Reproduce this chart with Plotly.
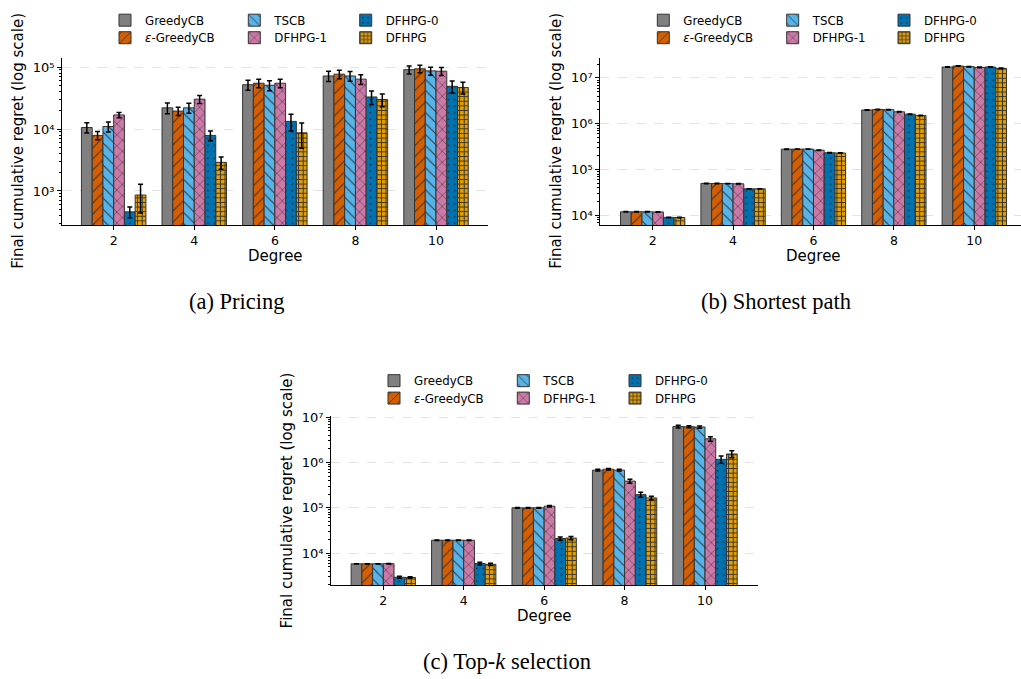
import math
import plotly.graph_objects as go

# ---- data -------------------------------------------------------------
degrees = ["2", "4", "6", "8", "10"]
methods = ["GreedyCB", "<i>ε</i>-GreedyCB", "TSCB", "DFHPG-1", "DFHPG-0", "DFHPG"]

# rows follow `methods`, columns follow `degrees`
pricing_mean = [
    [10600, 22000, 52000, 72000, 91000],
    [7900, 19500, 55000, 77000, 94000],
    [11000, 22000, 51000, 72000, 87000],
    [16900, 30400, 55000, 64000, 86000],
    [460, 7900, 13300, 33000, 49000],
    [860, 2900, 8700, 30000, 47000],
]
pricing_err = [
    [2000, 4300, 9500, 13500, 13700],
    [1200, 3000, 8500, 12000, 13000],
    [2000, 4000, 9500, 13000, 13000],
    [1600, 4500, 8500, 11500, 13000],
    [90, 1400, 4000, 8000, 10600],
    [420, 650, 3800, 7000, 10000],
]

path_mean = [
    [12000, 49900, 279000, 2.00e6, 17.3e6],
    [12000, 49800, 280000, 2.05e6, 18.2e6],
    [12000, 49500, 280000, 2.03e6, 17.6e6],
    [11900, 49000, 265000, 1.82e6, 17.0e6],
    [9060, 38000, 233000, 1.62e6, 17.3e6],
    [9000, 38000, 230000, 1.51e6, 16.2e6],
]
path_err = [
    [150, 500, 3000, 25000, 250000],
    [150, 500, 3000, 25000, 300000],
    [150, 500, 3000, 25000, 250000],
    [150, 500, 3000, 25000, 250000],
    [120, 400, 3000, 22000, 250000],
    [120, 400, 3000, 20000, 250000],
]

topk_mean = [
    [5800, 19300, 100000, 680000, 6.25e6],
    [5800, 19300, 100000, 714000, 6.20e6],
    [5800, 19300, 100000, 680000, 6.10e6],
    [5850, 19200, 109000, 390000, 3.36e6],
    [2930, 5900, 21000, 196000, 1.18e6],
    [2900, 5650, 21500, 166000, 1.55e6],
]
topk_err = [
    [60, 200, 1500, 30000, 450000],
    [60, 200, 1500, 30000, 350000],
    [60, 200, 1500, 30000, 350000],
    [70, 300, 4000, 40000, 380000],
    [150, 400, 1800, 25000, 210000],
    [120, 300, 1800, 15000, 270000],
]

# ---- styling ----------------------------------------------------------
W, H = 1021, 679
colors = ["#808080", "#D55E00", "#56B4E9", "#CC79A7", "#0072B2", "#E69F00"]
hatches = [
    dict(shape=""),
    dict(shape="/", size=7.8, solidity=0.13),
    dict(shape="\\", size=7.8, solidity=0.13),
    dict(shape="x", size=7.8, solidity=0.13),
    dict(shape=".", size=6.5, solidity=0.08),
    dict(shape="+", size=4.6, solidity=0.38),
]
EDGE = "#333333"
SANS = "DejaVu Sans"
SERIF = "Liberation Serif"
SUP = str.maketrans("0123456789", "⁰¹²³⁴⁵⁶⁷⁸⁹")

panels = [
    dict(mean=pricing_mean, err=pricing_err, ax="", yr=[2.45, 5.155],
         dom_x=[61.7, 488], dom_y=[52, 221], xr=[-0.645, 4.645],
         ytitle_x=18.5, xtitle_y=252.7, xtitle_x=275,
         leg_x=[145, 274.3, 385.7], leg_y=[14.3, 32],
         caption="(a) Pricing", cap_x=237, cap_y=298),
    dict(mean=path_mean, err=path_err, ax="2", yr=[3.79, 7.445],
         dom_x=[600, 1021], dom_y=[52, 221], xr=[-0.655, 4.581],
         ytitle_x=556.5, xtitle_y=252.7, xtitle_x=813,
         leg_x=[683.3, 812.7, 924], leg_y=[14.3, 32],
         caption="(b) Shortest path", cap_x=776, cap_y=298),
    dict(mean=topk_mean, err=topk_err, ax="3", yr=[3.293, 7.037],
         dom_x=[330.7, 757.7], dom_y=[413.3, 584.3], xr=[-0.654, 4.655],
         ytitle_x=287, xtitle_y=615.7, xtitle_x=544,
         leg_x=[414, 543.3, 655], leg_y=[378, 395.6],
         caption="(c) Top-<i>k</i> selection", cap_x=507, cap_y=661.7),
]

fig = go.Figure()
layout = {}
annotations = []
legend_no = 0

for p in panels:
    xa = "x" + p["ax"]
    ya = "y" + p["ax"]
    for i, name in enumerate(methods):
        legend_no += 1
        lname = "legend" if legend_no == 1 else f"legend{legend_no}"
        pat = dict(hatches[i])
        if pat["shape"]:
            pat.update(fgcolor=EDGE, fgopacity=1.0)
        fig.add_trace(go.Bar(
            x=degrees, y=p["mean"][i], name=name,
            xaxis=xa, yaxis=ya, legend=lname, showlegend=True,
            marker=dict(color=colors[i], line=dict(color=EDGE, width=1),
                        pattern=pat),
            error_y=dict(type="data", array=p["err"][i], visible=True,
                         color="black", thickness=1.5, width=2.5),
        ))
        col, row = i // 2, i % 2
        layout[lname] = dict(
            x=(p["leg_x"][col] - 40) / W, xanchor="left",
            y=1 - p["leg_y"][row] / H, yanchor="middle",
            bgcolor="rgba(0,0,0,0)", borderwidth=0,
            font=dict(family=SANS, size=11.8, color="black"),
            itemclick=False, itemdoubleclick=False,
        )

    lo, hi = p["yr"]
    major = [10 ** k for k in range(int(lo) + 1, int(hi) + 1)]
    minor = [m * 10 ** k for k in range(int(lo), int(hi) + 1)
             for m in range(2, 10) if lo <= math.log10(m * 10 ** k) <= hi]
    layout["xaxis" + p["ax"]] = dict(
        domain=[p["dom_x"][0] / W, min(p["dom_x"][1] / W, 1.0)],
        anchor=ya, type="category", range=p["xr"],
        showline=True, linecolor="black", linewidth=1.1,
        ticks="outside", ticklen=3.5, tickwidth=0.9, tickcolor="black",
        showgrid=False, zeroline=False,
        tickfont=dict(family=SANS, size=12.5, color="black"),
    )
    layout["yaxis" + p["ax"]] = dict(
        domain=[1 - p["dom_y"][1] / H, 1 - p["dom_y"][0] / H],
        anchor=xa, type="log", range=[lo, hi],
        showline=True, linecolor="black", linewidth=1.1,
        ticks="outside", ticklen=3.5, tickwidth=0.9, tickcolor="black",
        tickmode="array", tickvals=major,
        ticktext=["10" + str(round(math.log10(v))).translate(SUP) for v in major],
        showgrid=True, gridcolor="#e3e3e3", gridwidth=0.8, griddash="dash",
        zeroline=False,
        minor=dict(tickmode="array", tickvals=minor, ticks="outside",
                   ticklen=2, tickwidth=0.6, tickcolor="black", showgrid=False),
        tickfont=dict(family=SANS, size=13, color="black"),
    )

    cy = (p["dom_y"][0] + p["dom_y"][1]) / 2
    annotations.append(dict(
        text="Final cumulative regret (log scale)", textangle=-90,
        x=p["ytitle_x"] / W, y=1 - cy / H, xref="paper", yref="paper",
        xanchor="center", yanchor="middle", showarrow=False,
        font=dict(family=SANS, size=15, color="black")))
    annotations.append(dict(
        text="Degree", x=p["xtitle_x"] / W, y=1 - p["xtitle_y"] / H,
        xref="paper", yref="paper", xanchor="center", yanchor="middle",
        showarrow=False, font=dict(family=SANS, size=15, color="black")))
    annotations.append(dict(
        text=p["caption"], x=p["cap_x"] / W, y=1 - p["cap_y"] / H,
        xref="paper", yref="paper", xanchor="center", yanchor="middle",
        showarrow=False, font=dict(family=SERIF, size=22.5, color="black")))

fig.update_layout(
    width=W, height=H, autosize=False,
    margin=dict(l=0, r=0, t=0, b=0),
    paper_bgcolor="white", plot_bgcolor="white",
    barmode="group", bargap=0.2, bargroupgap=0.0,
    annotations=annotations,
    **layout,
)

fig.write_html("out.html")
